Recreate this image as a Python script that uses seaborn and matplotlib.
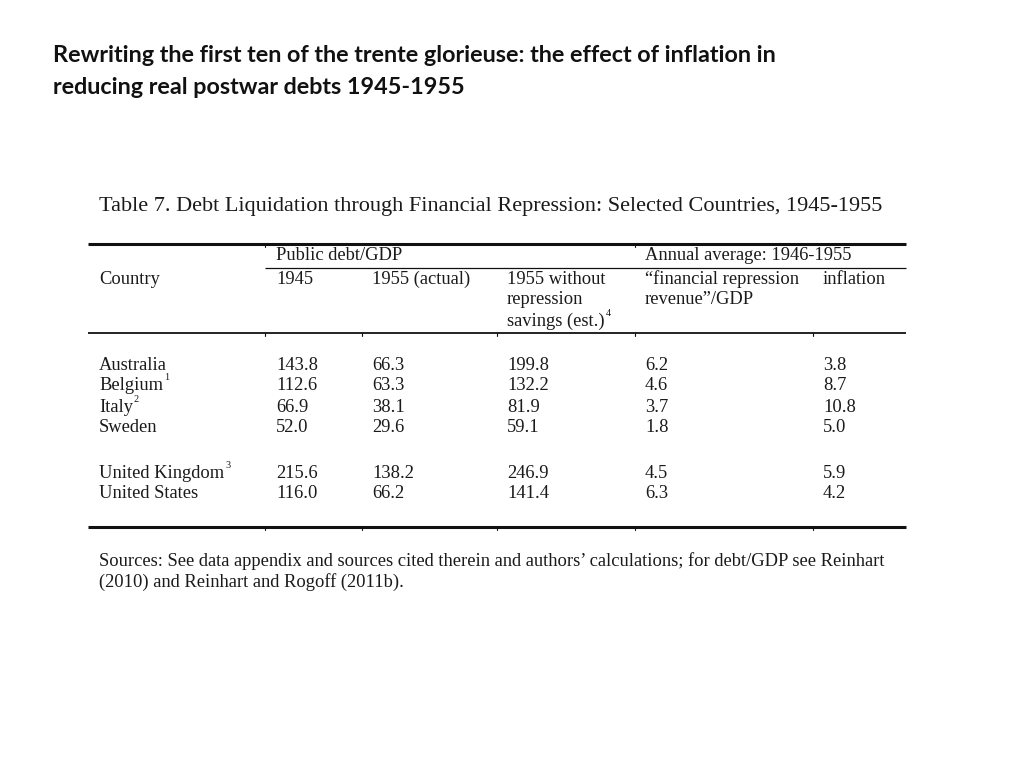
import matplotlib
matplotlib.use("Agg")
import matplotlib.pyplot as plt
import seaborn as sns

sns.set_theme(style="white")
plt.rcParams['font.family'] = ['Liberation Serif', 'DejaVu Serif']

# ---- data ----
title_lines = ["Rewriting the first ten of the trente glorieuse: the effect of inflation in",
               "reducing real postwar debts 1945-1955"]
table_caption = "Table 7. Debt Liquidation through Financial Repression: Selected Countries, 1945-1955"
countries = ["Australia", "Belgium", "Italy", "Sweden", "United Kingdom", "United States"]
country_notes = ["", "1", "2", "", "3", ""]
debt_1945 = ["143.8", "112.6", "66.9", "52.0", "215.6", "116.0"]
debt_1955_actual = ["66.3", "63.3", "38.1", "29.6", "138.2", "66.2"]
debt_1955_without = ["199.8", "132.2", "81.9", "59.1", "246.9", "141.4"]
repression_revenue = ["6.2", "4.6", "3.7", "1.8", "4.5", "6.3"]
inflation = ["3.8", "8.7", "10.8", "5.0", "5.9", "4.2"]
sources = ["Sources: See data appendix and sources cited therein and authors\u2019 calculations; for debt/GDP see Reinhart",
           "(2010) and Reinhart and Rogoff (2011b)."]

fig = plt.figure(figsize=(10.24, 7.68), dpi=100)
ax = fig.add_axes([0, 0, 1, 1])
ax.set_xlim(0, 1024)
ax.set_ylim(768, 0)
ax.axis("off")
fig.canvas.draw()
renderer = fig.canvas.get_renderer()

# title
for i, line in enumerate(title_lines):
    ax.text(53, 55 + 32 * i, line, family=["Lato", "DejaVu Sans"], fontweight="bold",
            fontsize=16.8, va="center", ha="left", color="#111111")

fs = 13.3
ink = "#1a1a1a"
def t(x, y, s, note=None, size=fs):
    txt = ax.text(x, y, s, fontsize=size, va="center", ha="left", color=ink)
    if note:
        bb = txt.get_window_extent(renderer=renderer)
        xr = ax.transData.inverted().transform((bb.x1, bb.y1))[0]
        ax.text(xr + 1, y - 8, note, fontsize=size * 0.55, va="center", ha="left", color=ink)
    return txt

ax.text(99, 206, table_caption, fontsize=16, va="center", ha="left", color=ink)

# rules
ax.plot([88, 906], [244, 244], color="#111111", lw=2.2, solid_capstyle="butt")
ax.plot([265, 906], [268, 268], color="#111111", lw=0.9, solid_capstyle="butt")
ax.plot([88, 906], [333, 333], color="#111111", lw=1.3, solid_capstyle="butt")
ax.plot([88, 906], [527, 527], color="#111111", lw=2.2, solid_capstyle="butt")
for xs in [265, 635]:
    ax.plot([xs, xs], [244, 247], color="#111111", lw=0.8)
for xs in [265, 362, 497, 635, 813]:
    ax.plot([xs, xs], [333, 336], color="#111111", lw=0.8)
    ax.plot([xs, xs], [527, 530], color="#111111", lw=0.8)

cols = [99, 276, 372, 507, 645, 823]

# header
t(276, 256, "Public debt/GDP")
t(645, 256, "Annual average: 1946-1955")
t(99, 279, "Country")
t(276, 279, "1945")
t(372, 279, "1955 (actual)")
t(507, 279, "1955 without")
t(507, 300, "repression")
t(507, 321, "savings (est.)", note="4")
t(645, 279, "\u201cfinancial repression")
t(645, 300, "revenue\u201d/GDP")
t(823, 279, "inflation")

row_y = [365, 386, 407, 428, 473, 494]
for i, y in enumerate(row_y):
    t(cols[0], y, countries[i], note=country_notes[i] or None)
    t(cols[1], y, debt_1945[i])
    t(cols[2], y, debt_1955_actual[i])
    t(cols[3], y, debt_1955_without[i])
    t(cols[4], y, repression_revenue[i])
    t(cols[5], y, inflation[i])

for i, line in enumerate(sources):
    t(99, 561 + 21 * i, line)

fig.savefig("out.png", dpi=100)
